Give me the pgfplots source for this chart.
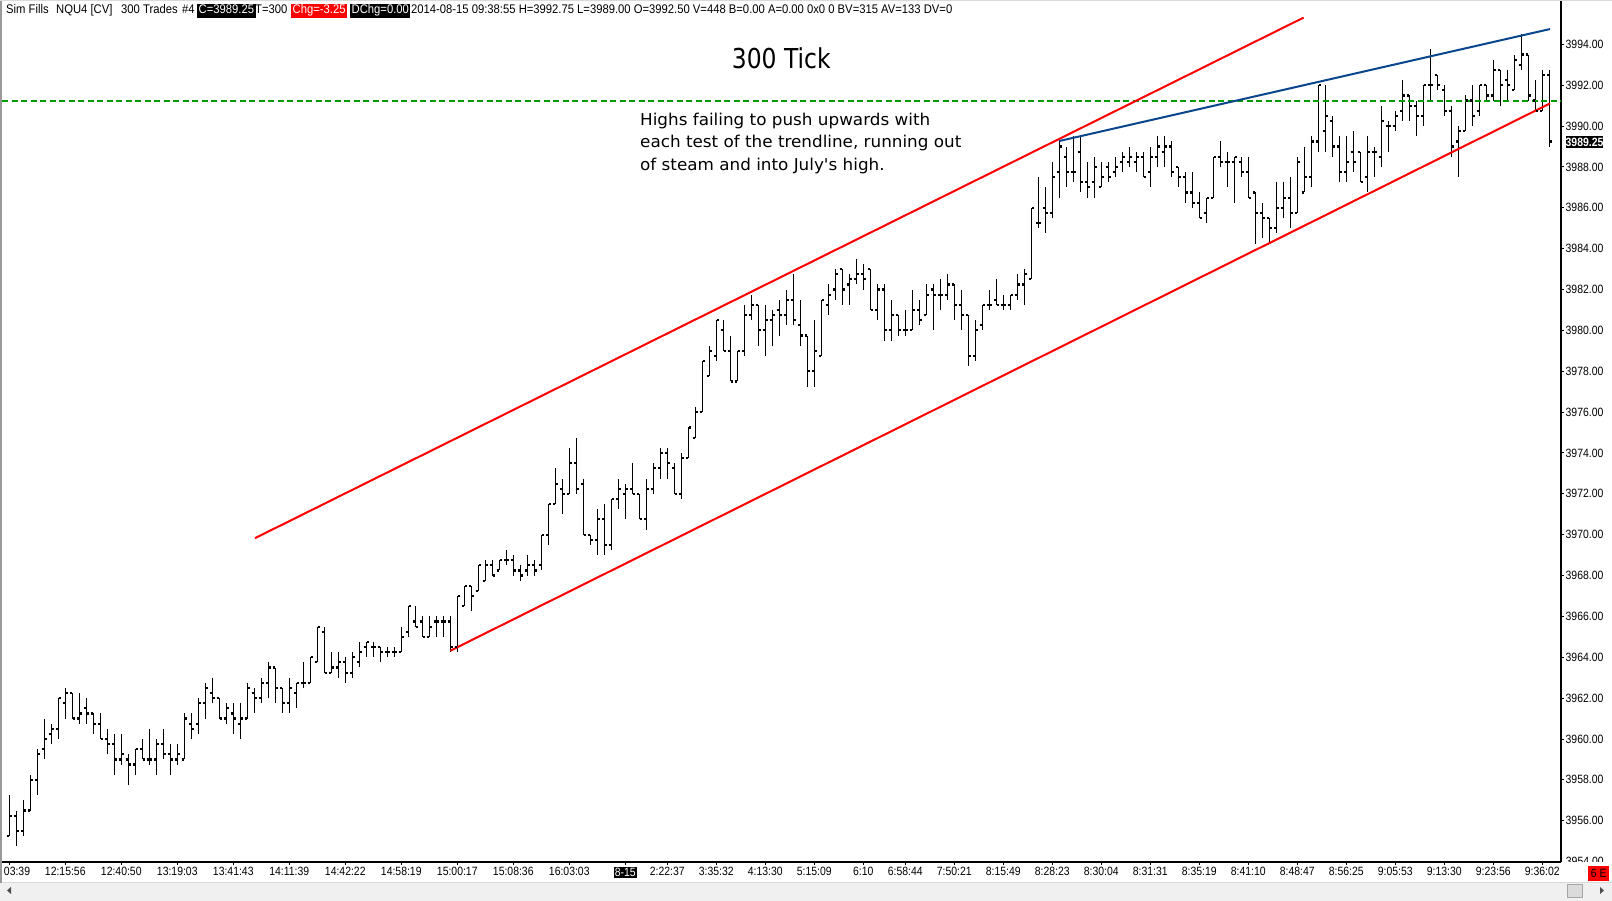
\documentclass[border=0pt]{standalone}
\usepackage{fontspec}
\setmainfont{Liberation Sans}
\newfontfamily\axfont[FakeStretch=0.87]{Liberation Sans}
\newfontfamily\hdrfont[FakeStretch=0.9]{Liberation Sans}
\newfontfamily\notefont[FakeStretch=1.03]{DejaVu Sans}
\newfontfamily\titlefont[FakeStretch=0.855]{DejaVu Sans}
\usepackage{pgfplots}
\usepackage{pgfplotstable}
\pgfplotsset{compat=1.18}
\definecolor{tlblue}{RGB}{10,70,140}
\definecolor{tlgreen}{RGB}{0,155,0}
\definecolor{tlred}{RGB}{255,0,0}
\pgfdeclareplotmark{otick}{\pgfpathmoveto{\pgfqpoint{-2.6pt}{0pt}}\pgfpathlineto{\pgfqpoint{-0.5pt}{0pt}}\pgfusepathqstroke}
\pgfdeclareplotmark{ctick}{\pgfpathmoveto{\pgfqpoint{0.5pt}{0pt}}\pgfpathlineto{\pgfqpoint{2.6pt}{0pt}}\pgfusepathqstroke}
\pgfplotstableread{
i o h l c
0 3955.25 3957.25 3955.25 3956.25
1 3956.25 3956.50 3954.75 3955.50
2 3955.50 3957.00 3955.25 3956.50
3 3956.50 3958.25 3956.50 3958.00
4 3958.00 3959.50 3957.25 3959.25
5 3959.50 3961.00 3959.00 3960.00
6 3960.25 3960.75 3959.75 3960.50
7 3960.50 3962.00 3960.00 3962.00
8 3961.75 3962.50 3961.00 3962.25
9 3962.25 3962.25 3961.00 3961.00
10 3961.00 3962.25 3960.75 3961.25
11 3961.50 3962.00 3960.75 3961.25
12 3961.25 3961.25 3960.25 3960.75
13 3960.75 3961.25 3960.00 3960.00
14 3960.00 3960.50 3959.25 3959.75
15 3959.75 3960.25 3958.25 3959.00
16 3959.00 3960.25 3958.75 3959.25
17 3959.00 3959.25 3957.75 3958.75
18 3958.75 3959.50 3958.25 3959.50
19 3959.50 3960.00 3959.00 3959.00
20 3959.00 3960.50 3958.75 3959.00
21 3959.00 3960.00 3958.25 3959.75
22 3959.75 3960.50 3959.00 3959.25
23 3959.25 3959.75 3958.25 3959.00
24 3959.00 3959.75 3958.75 3959.25
25 3959.00 3961.25 3959.00 3961.00
26 3960.75 3961.25 3960.00 3960.50
27 3960.75 3962.00 3960.25 3961.75
28 3961.75 3962.75 3961.00 3962.50
29 3962.25 3963.00 3961.75 3962.00
30 3962.00 3962.00 3961.00 3961.00
31 3961.00 3961.75 3960.75 3961.50
32 3961.25 3961.75 3960.25 3961.00
33 3960.75 3961.75 3960.00 3961.00
34 3961.00 3962.75 3961.00 3962.50
35 3962.25 3962.50 3961.25 3962.00
36 3962.00 3963.00 3961.75 3962.75
37 3962.75 3963.75 3962.00 3963.50
38 3963.50 3963.50 3961.75 3962.50
39 3962.50 3962.50 3961.25 3961.75
40 3961.75 3963.00 3961.25 3962.50
41 3962.25 3962.75 3961.50 3962.75
42 3962.75 3963.75 3962.50 3962.75
43 3962.75 3964.00 3962.75 3964.00
44 3963.75 3965.50 3963.75 3965.50
45 3965.25 3965.50 3963.25 3963.25
46 3963.25 3964.25 3963.25 3963.50
47 3963.50 3964.25 3963.00 3963.75
48 3963.75 3964.00 3962.75 3963.25
49 3963.25 3964.25 3963.00 3964.00
50 3963.75 3964.75 3963.50 3964.25
51 3964.50 3964.75 3964.00 3964.75
52 3964.50 3964.75 3964.00 3964.50
53 3964.50 3964.50 3963.75 3964.25
54 3964.25 3964.50 3964.00 3964.25
55 3964.25 3964.50 3964.00 3964.25
56 3964.25 3965.50 3964.25 3965.00
57 3965.25 3966.50 3965.00 3966.50
58 3965.75 3966.50 3965.50 3965.50
59 3965.75 3966.00 3965.00 3965.00
60 3965.00 3966.00 3965.00 3965.50
61 3965.75 3966.00 3965.00 3965.75
62 3965.75 3966.00 3965.00 3965.75
63 3965.75 3966.00 3964.25 3964.50
64 3964.50 3967.00 3964.25 3967.00
65 3966.50 3967.50 3966.50 3967.50
66 3967.50 3967.50 3966.25 3967.00
67 3967.25 3968.50 3967.25 3968.50
68 3967.75 3968.75 3967.75 3968.50
69 3968.50 3968.75 3968.00 3968.00
70 3968.25 3968.75 3968.25 3968.75
71 3968.75 3969.25 3968.50 3968.75
72 3968.75 3969.00 3968.00 3968.25
73 3968.25 3968.50 3967.75 3968.00
74 3968.25 3969.00 3968.00 3968.50
75 3968.50 3968.75 3968.00 3968.25
76 3968.50 3970.00 3968.25 3970.00
77 3970.00 3971.50 3969.50 3971.50
78 3971.50 3973.25 3971.50 3972.50
79 3972.25 3972.75 3971.00 3972.00
80 3972.00 3974.25 3972.00 3973.50
81 3973.50 3974.75 3972.00 3972.25
82 3972.50 3972.75 3970.00 3970.00
83 3970.00 3970.00 3969.50 3969.75
84 3969.75 3971.25 3969.00 3970.75
85 3970.75 3971.50 3969.00 3969.50
86 3969.50 3971.75 3969.25 3971.75
87 3971.75 3972.75 3971.25 3972.25
88 3972.00 3972.50 3970.75 3972.25
89 3972.25 3973.50 3972.00 3972.00
90 3972.00 3972.00 3970.75 3970.75
91 3970.75 3972.75 3970.25 3972.25
92 3972.25 3973.50 3972.00 3973.25
93 3973.25 3974.25 3972.75 3974.00
94 3974.00 3974.25 3972.75 3973.50
95 3973.25 3973.50 3972.00 3972.00
96 3972.00 3974.00 3971.75 3973.75
97 3973.75 3975.25 3973.75 3975.25
98 3974.75 3976.25 3974.75 3976.00
99 3976.00 3978.50 3976.00 3978.50
100 3977.75 3979.25 3977.75 3979.00
101 3978.75 3980.50 3978.50 3980.50
102 3980.00 3980.50 3979.00 3979.00
103 3979.00 3979.75 3977.50 3977.50
104 3977.50 3979.00 3977.50 3979.00
105 3979.00 3981.25 3978.75 3980.75
106 3980.75 3981.75 3980.50 3981.25
107 3981.25 3981.25 3979.25 3980.00
108 3980.00 3981.25 3978.75 3980.50
109 3980.50 3981.00 3979.25 3980.75
110 3981.00 3981.50 3979.75 3980.75
111 3980.75 3982.00 3980.25 3981.50
112 3981.50 3982.75 3980.25 3980.50
113 3980.25 3981.50 3979.25 3979.75
114 3979.75 3979.75 3977.25 3978.00
115 3978.00 3980.50 3977.25 3979.00
116 3978.75 3981.50 3978.75 3981.50
117 3981.25 3982.25 3980.75 3981.75
118 3982.00 3983.00 3981.50 3982.75
119 3983.00 3983.00 3981.25 3982.00
120 3982.25 3982.75 3981.25 3982.50
121 3982.50 3983.50 3982.25 3982.75
122 3982.75 3983.25 3982.00 3982.50
123 3983.00 3983.00 3981.00 3981.00
124 3981.00 3982.25 3980.50 3982.00
125 3982.00 3982.25 3979.50 3980.00
126 3980.00 3981.50 3979.50 3980.75
127 3980.75 3980.75 3979.75 3980.00
128 3980.00 3981.00 3979.75 3980.00
129 3980.00 3982.00 3980.00 3981.00
130 3981.00 3981.50 3980.25 3980.50
131 3980.75 3982.25 3980.75 3981.75
132 3982.00 3982.25 3980.00 3981.75
133 3981.75 3982.50 3981.00 3981.75
134 3981.75 3982.75 3981.50 3982.25
135 3982.25 3982.25 3980.50 3981.25
136 3981.25 3982.00 3980.00 3980.75
137 3980.75 3980.75 3978.25 3978.75
138 3978.75 3980.50 3978.50 3980.00
139 3980.25 3981.25 3980.00 3981.25
140 3981.25 3982.00 3981.00 3981.25
141 3981.50 3982.50 3981.25 3981.25
142 3981.25 3981.75 3981.00 3981.25
143 3981.25 3981.75 3981.00 3981.75
144 3981.75 3982.75 3981.50 3982.25
145 3982.25 3983.00 3981.25 3982.75
146 3982.50 3986.00 3982.50 3986.00
147 3985.25 3987.50 3985.00 3985.25
148 3986.00 3987.00 3984.75 3985.75
149 3985.75 3988.25 3985.50 3987.50
150 3987.75 3989.25 3986.50 3989.00
151 3988.50 3989.00 3987.00 3987.75
152 3987.75 3989.50 3987.25 3987.75
153 3988.75 3989.50 3986.75 3987.25
154 3987.25 3988.25 3986.50 3987.00
155 3987.25 3988.50 3986.50 3988.00
156 3987.00 3988.25 3987.00 3987.50
157 3988.00 3988.25 3987.25 3987.50
158 3987.75 3988.50 3987.50 3988.00
159 3988.25 3988.75 3987.75 3988.50
160 3988.25 3989.00 3988.00 3988.50
161 3988.25 3988.75 3987.75 3988.50
162 3988.50 3988.75 3987.50 3987.50
163 3987.75 3989.00 3987.00 3988.50
164 3988.50 3989.50 3988.00 3989.00
165 3988.75 3989.50 3988.00 3989.00
166 3989.00 3989.25 3987.50 3987.75
167 3988.00 3988.00 3987.00 3987.50
168 3987.50 3987.75 3986.25 3986.75
169 3986.75 3987.75 3986.00 3986.25
170 3986.25 3986.75 3985.50 3985.50
171 3985.75 3986.50 3985.25 3986.50
172 3986.50 3988.50 3986.50 3988.50
173 3988.50 3989.25 3988.00 3988.25
174 3988.25 3988.75 3987.00 3988.25
175 3988.25 3988.50 3986.25 3988.50
176 3988.25 3988.50 3987.50 3987.75
177 3987.75 3988.50 3986.50 3986.50
178 3986.75 3986.75 3984.25 3985.75
179 3985.75 3986.25 3984.50 3985.50
180 3985.50 3985.50 3984.25 3985.00
181 3985.00 3987.25 3984.75 3986.00
182 3986.00 3987.25 3985.50 3986.50
183 3986.50 3987.50 3985.00 3985.75
184 3985.75 3988.50 3985.75 3988.25
185 3986.75 3989.00 3986.75 3987.50
186 3987.50 3989.50 3987.00 3989.25
187 3989.25 3992.00 3988.75 3992.00
188 3989.75 3992.00 3988.75 3990.50
189 3990.25 3990.50 3988.50 3989.00
190 3989.00 3989.50 3987.25 3987.75
191 3987.75 3989.50 3987.25 3988.25
192 3988.75 3989.75 3987.75 3988.25
193 3988.75 3988.75 3987.25 3987.25
194 3987.50 3989.50 3986.75 3988.75
195 3988.75 3989.00 3987.50 3988.75
196 3988.50 3991.00 3988.00 3990.25
197 3990.00 3990.25 3988.75 3990.00
198 3990.00 3990.75 3989.75 3990.50
199 3990.75 3992.25 3990.25 3991.50
200 3991.50 3991.50 3990.25 3991.00
201 3991.00 3991.25 3989.50 3990.50
202 3990.50 3992.00 3990.00 3992.00
203 3992.00 3993.75 3991.25 3992.00
204 3992.50 3992.50 3991.75 3992.00
205 3991.75 3992.00 3990.50 3990.75
206 3990.75 3991.00 3988.50 3989.00
207 3989.25 3990.00 3987.50 3989.75
208 3989.75 3991.50 3989.75 3991.25
209 3991.25 3992.00 3990.00 3990.50
210 3990.75 3992.00 3990.50 3992.00
211 3992.00 3992.00 3991.25 3991.50
212 3991.50 3993.25 3991.25 3992.75
213 3992.75 3992.75 3991.00 3992.00
214 3992.25 3992.75 3991.25 3992.00
215 3991.75 3993.50 3991.75 3993.25
216 3993.00 3994.50 3992.75 3993.50
217 3993.50 3993.50 3991.25 3991.50
218 3991.25 3992.25 3990.75 3990.75
219 3990.75 3992.75 3990.75 3992.50
220 3992.50 3992.75 3989.00 3989.25
}\ohlc
\begin{document}
\begin{tikzpicture}[x=1pt,y=1pt]
\path[use as bounding box] (0,0) rectangle (1612,901);
\fill[white] (0,0) rectangle (1612,901);
\begin{axis}[
  at={(2pt,39pt)}, anchor=south west,
  scale only axis, x=7pt, y=20.43pt,
  xmin=-1.04, xmax=221.67, ymin=3953.98, ymax=3996.17,
  axis x line*=bottom, axis y line*=right,
  axis line style={black, line width=1.2pt, -},
  tick align=outside, major tick length=3pt,
  tick style={black, line width=1pt},
  /pgf/number format/assume math mode=true,
  ticklabel style={font=\axfont\fontsize{12}{14}\selectfont},
  ytick={3956,3958,...,3994},
  yticklabel={\pgfmathprintnumber[fixed,fixed zerofill,precision=2,1000 sep={}]{\tick}},
  yticklabel style={anchor=west, inner sep=0pt, xshift=1.5pt},
  xtick={0,8,16,24,32,40,48,56,64,72,80,88,94,101,108,115,122,128,135,142,149,156,163,170,177,184,191,198,205,212,219},
  xticklabels={{\makebox[0pt][l]{\hspace*{-5.3pt}03:39}},12:15:56,12:40:50,13:19:03,13:41:43,14:11:39,14:42:22,14:58:19,15:00:17,15:08:36,16:03:03,{\setlength{\fboxsep}{1pt}\colorbox{black}{\textcolor{white}{8-15}}},2:22:37,3:35:32,4:13:30,5:15:09,6:10,6:58:44,7:50:21,8:15:49,8:28:23,8:30:04,8:31:31,8:35:19,8:41:10,8:48:47,8:56:25,9:05:53,9:13:30,9:23:56,9:36:02},
  xticklabel style={anchor=north, inner sep=0pt, yshift=-2pt},
]
\addplot[only marks, mark=ctick, mark options={black, line width=2.2pt},
  error bars/.cd, y dir=both, y explicit, error mark=none,
  error bar style={black, line width=1.1pt, solid}]
  table[x=i, y=c, y error plus expr=\thisrow{h}-\thisrow{c}, y error minus expr=\thisrow{c}-\thisrow{l}] {\ohlc};
\addplot[only marks, mark=otick, mark options={black, line width=2.2pt}] table[x=i, y=o] {\ohlc};
\addplot[tlgreen, line width=2pt, dash pattern=on 6pt off 3.5pt] coordinates {(-1.04,3991.25) (221.67,3991.25)};
\addplot[tlred, line width=2pt] coordinates {(35.1,3969.83) (184.9,3995.31)};
\addplot[tlred, line width=2pt] coordinates {(63.0,3964.32) (220.1,3991.11)};
\addplot[tlblue, line width=2pt] coordinates {(150.0,3989.27) (220.1,3994.75)};
\end{axis}
% partially hidden 3954 label
\node[anchor=west, inner sep=0pt, font=\axfont\fontsize{12}{14}\selectfont] at (1565.7,39.5) {3954.00};
\fill[white] (1562.2,18.3) rectangle (1612,38.6);
% current price box
\node[fill=black, text=white, inner sep=0pt, minimum width=37.6pt, minimum height=12.3pt, font=\axfont\bfseries\fontsize{12}{14}\selectfont] at (1584.5,758.8) {3989.25};
% 6 E box
\node[fill=tlred, inner sep=0pt, minimum width=20.7pt, minimum height=14.7pt, font=\axfont\fontsize{12}{14}\selectfont] at (1598.7,27.7) {6 E};
% scrollbar
\fill[black!6] (0,0) rectangle (1612,18.3);
\draw[black!15] (0,18.3) -- (1612,18.3);
\filldraw[fill=black!14, draw=black!35] (1567,4) rectangle (1582,17);
\fill[black!70] (1600,7) -- (1604,10.5) -- (1600,14) -- cycle;
\fill[black!70] (11,7) -- (7,10.5) -- (11,14) -- cycle;
% borders
\fill[black!40] (0,18.3) rectangle (2,901);
\draw[black!15] (0,900.5) -- (1612,900.5);
% header
\begin{scope}[every node/.style={anchor=base west, inner sep=0pt, font=\hdrfont\fontsize{12.5}{14}\selectfont}]
\node at (6,887.2) {Sim Fills};
\node at (56,887.2) {NQU4 [CV]};
\node at (121,887.2) {300 Trades};
\node at (182,887.2) {\#4};
\node[fill=black, text=white, inner xsep=1.5pt, text height=10pt, text depth=4pt] at (197,887.2) {C=3989.25};
\node at (255,887.2) {T=300};
\node[fill=tlred, text=white, inner xsep=1.5pt, text height=10pt, text depth=4pt] at (291,887.2) {Chg=-3.25};
\node[fill=black, text=white, inner xsep=1.5pt, text height=10pt, text depth=4pt] at (350,887.2) {DChg=0.00};
\node at (411,887.2) {2014-08-15 09:38:55 H=3992.75 L=3989.00 O=3992.50 V=448 B=0.00 A=0.00 0x0 0 BV=315 AV=133 DV=0};
\end{scope}
% title and note
\node[anchor=base west, inner sep=0pt, font=\titlefont\fontsize{27.4}{30}\selectfont] at (731.7,832.7) {300 Tick};
\begin{scope}[every node/.style={anchor=base west, inner sep=0pt, font=\notefont\fontsize{16.3}{20}\selectfont}]
\node at (640,775.8) {Highs failing to push upwards with};
\node at (640,753.3) {each test of the trendline, running out};
\node at (640,730.8) {of steam and into July's high.};
\end{scope}
\end{tikzpicture}
\end{document}
